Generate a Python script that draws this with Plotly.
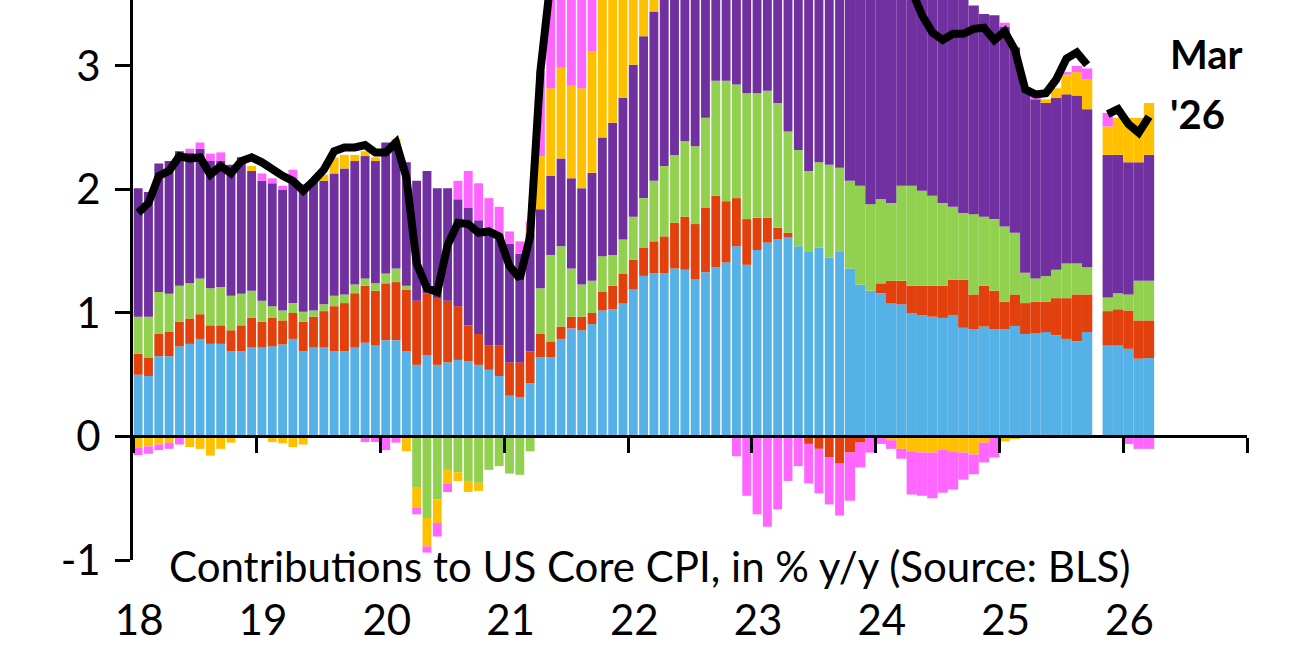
import plotly.graph_objects as go

# ---------------- data (monthly, Jan 2018 .. Mar 2026; Oct 2025 not published) ----------------
months = [f"{y}-{m:02d}" for y in range(2018, 2027) for m in range(1, 13)][:99]

shelter = [
    .50, .49, .65, .65, .73, .75, .79, .75, .75, .69, .69, .72,
    .72, .73, .745, .79, .69, .72, .72, .69, .69, .72, .76, .74,
    .78, .78, .69, .58, .66, .58, .60, .62, .61, .58, .54, .49,
    .33, .32, .43, .64, .64, .79, .875, .86, .91, 1.02, 1.03, 1.08,
    1.19, 1.30, 1.32, 1.32, 1.36, 1.35, 1.27, 1.33, 1.37, 1.41, 1.54, 1.39,
    1.51, 1.57, 1.595, 1.61, 1.54, 1.50, 1.53, 1.45, 1.50, 1.36, 1.23, 1.18,
    1.16, 1.08, 1.07, 1.00, .98, .97, .96, .98, .88, .87, .89, .87,
    .87, .895, .83, .835, .845, .82, .79, .77, .845, None, .74, .74,
    .71, .63, .635]

medical = [
    .17, .15, .18, .20, .20, .205, .20, .15, .15, .17, .21, .24,
    .21, .23, .195, .21, .24, .25, .295, .365, .39, .44, .46, .44,
    .46, .47, .50, .52, .50, .54, .50, .435, .29, .25, .20, .25,
    .27, .28, .26, .19, .13, .10, .095, .11, .09, .15, .19, .24,
    .24, .23, .26, .30, .37, .43, .45, .52, .58, .495, .39, .37,
    .26, .20, .095, .04, 0, -.06, -.10, -.17, -.22, -.13, -.05, 0,
    .08, .18, .19, .22, .24, .25, .26, .29, .39, .28, .33, .31,
    .22, .255, .25, .255, .245, .30, .33, .38, .305, None, .275, .29,
    .31, .31, .305]

transport = [
    .30, .33, .34, .305, .29, .285, .29, .30, .31, .28, .255, .22,
    .17, .095, .08, .08, .08, .05, .055, .085, .07, .07, .06, .06,
    .08, .11, .03, -.415, -.66, -.51, -.27, -.29, -.36, -.375, -.27, -.24,
    -.30, -.31, -.12, .37, .70, .65, .39, .26, .26, .29, .25, .275,
    .35, .40, .49, .57, .55, .61, .63, .73, .93, .975, .92, 1.02,
    1.01, 1.03, 1.01, .82, .78, .65, .69, .75, .675, .71, .80, .70,
    .68, .63, .77, .81, .77, .73, .67, .59, .54, .65, .56, .58,
    .61, .50, .245, .19, .21, .23, .28, .25, .22, None, .11, .13,
    .13, .32, .32]

other_services = [
    1.04, 1.01, 1.04, 1.075, 1.09, 1.06, 1.05, 1.03, 1.02, 1.06, 1.105, .97,
    .97, .995, .98, .99, 1.03, 1.05, 1.00, .99, 1.02, 1.00, .99, .99,
    1.06, .99, 1.00, .97, .99, .89, .91, .865, .95, .92, .89, .90,
    .96, .88, .95, .64, .64, .71, .73, .78, .875, .96, 1.07, 1.145,
    1.23, 1.31, 1.37, 1.5, 1.7, 1.9, 2.0, 2.2, 2.4, 2.5, 2.6, 2.7,
    3.45, 3.43, 3.49, 3.39, 3.22, 3.03, 2.94, 2.65, 2.57, 2.45, 2.22, 2.15,
    2.01, 1.97, 1.95, 2.05, 1.90, 1.82, 1.775, 1.83, 1.80, 1.69, 1.64, 1.65,
    1.62, 1.50, 1.505, 1.45, 1.40, 1.39, 1.37, 1.36, 1.28, None, 1.155, 1.12,
    1.07, .96, 1.02]

core_goods = [
    -.09, -.08, -.065, -.05, 0, -.085, -.10, -.155, -.10, -.05, 0, .04,
    0, -.045, -.055, -.085, -.065, 0, .05, .13, .11, .05, .04, .03,
    0, .06, -.12, -.16, -.23, -.19, -.11, -.07, -.09, -.065, 0, 0,
    0, 0, .05, .43, .71, .735, .75, .81, .985, 1.2, 1.3, 1.3,
    1.6, 1.6, 1.5, 1.3, 1.0, .8, .6, .4, .3, .2, .71, .70,
    0, 0, 0, 0, 0, 0, 0, 0, 0, 0, 0, 0,
    0, -.03, -.10, -.12, -.13, -.13, -.105, -.12, -.13, -.146, -.05, 0,
    -.04, -.02, 0, 0, .03, .08, .16, .19, .24, None, .23, .30,
    .36, .36, .42]

vehicles = [
    -.06, -.06, -.045, -.05, -.065, .03, .05, .06, .07, 0, 0, 0,
    .06, .04, .03, .09, 0, 0, 0, 0, 0, 0, -.045, -.045,
    -.11, -.05, 0, -.055, -.05, -.11, -.07, .15, .30, .30, .30, .22,
    .10, .10, .05, .69, .98, 1.47, 1.43, 1.18, .92, .96, 1.12, 1.44,
    1.39, 1.56, 1.56, 1.21, 1.02, .81, .95, 1.12, 1.02, .72, -.16, -.48,
    -.63, -.73, -.59, -.36, -.24, -.32, -.36, -.38, -.42, -.39, -.20, -.13,
    -.06, -.07, -.08, -.35, -.35, -.37, -.35, -.31, -.22, -.16, -.16, -.17,
    .03, 0, 0, .03, 0, 0, .02, .05, .09, None, .11, 0,
    -.06, -.10, -.10]

core_cpi = [
    1.81, 1.89, 2.11, 2.15, 2.27, 2.25, 2.26, 2.12, 2.19, 2.13, 2.23, 2.26,
    2.22, 2.16, 2.11, 2.07, 1.99, 2.07, 2.16, 2.31, 2.34, 2.34, 2.36, 2.30,
    2.30, 2.38, 2.10, 1.40, 1.20, 1.17, 1.55, 1.73, 1.72, 1.65, 1.66, 1.62,
    1.38, 1.28, 1.62, 2.96, 3.80, 4.45, 4.27, 4.00, 4.04, 4.58, 4.96, 5.48,
    6.0, 6.4, 6.5, 6.2, 6.0, 5.9, 5.9, 6.3, 6.6, 6.3, 6.0, 5.7,
    5.6, 5.5, 5.6, 5.5, 5.3, 4.8, 4.7, 4.3, 4.1, 4.0, 4.0, 3.9,
    3.87, 3.76, 3.80, 3.61, 3.41, 3.27, 3.21, 3.26, 3.26, 3.30, 3.31, 3.21,
    3.28, 3.13, 2.81, 2.77, 2.78, 2.89, 3.06, 3.11, 3.01, None, 2.61, 2.65,
    2.53, 2.46, 2.59]

year_labels = ["18", "19", "20", "21", "22", "23", "24", "25", "26"]
y_ticks = [-1, 0, 1, 2, 3]

# ---------------- styling ----------------
FONT = "Lato"
series = [
    ("Shelter", shelter, "#55B1E6"),
    ("Medical", medical, "#E2400C"),
    ("Transport", transport, "#92D050"),
    ("Other services", other_services, "#7030A0"),
    ("Core goods", core_goods, "#FFC000"),
    ("Vehicles", vehicles, "#FF66FF"),
]

x_pos = list(range(len(months)))
widths = [0.86 if i < 69 else 1.0 for i in x_pos]

YMIN, YMAX = -1, 3.534
XMIN, XMAX = -0.5, 12 * len(year_labels) - 0.5

fig = go.Figure()
for name, vals, color in series:
    fig.add_trace(go.Bar(x=x_pos, y=vals, width=widths, name=name,
                         marker=dict(color=color, line=dict(width=0))))
fig.add_trace(go.Scatter(x=x_pos, y=core_cpi, mode="lines", name="Core CPI",
                         line=dict(color="black", width=8), connectgaps=False))
# helper trace so the zero-line axis is drawn
fig.add_trace(go.Scatter(x=[0], y=[0], xaxis="x2", mode="markers",
                         marker=dict(opacity=0), hoverinfo="skip", showlegend=False))

fig.update_layout(
    width=1300, height=650,
    margin=dict(l=133, r=53, t=0, b=90),
    paper_bgcolor="white", plot_bgcolor="white",
    barmode="relative", showlegend=False,
    font=dict(family=FONT, color="black"),
    xaxis=dict(range=[XMIN, XMAX], tickmode="array",
               tickvals=[12 * k + 0.1 for k in range(len(year_labels))],
               ticktext=year_labels, ticks="", showline=False, showgrid=False,
               zeroline=False, tickfont=dict(size=42, family=FONT),
               ticklabelstandoff=32),
    xaxis2=dict(overlaying="x", anchor="free",
                position=(0 - YMIN) / (YMAX - YMIN),
                range=[XMIN, XMAX], tickmode="array",
                tickvals=[12 * k - 0.5 for k in range(len(year_labels) + 1)],
                ticks="outside", ticklen=15, tickwidth=3, tickcolor="black",
                showline=True, linecolor="black", linewidth=3,
                showticklabels=False, showgrid=False, zeroline=False,
                layer="above traces"),
    yaxis=dict(range=[YMIN, YMAX], tickmode="array", tickvals=y_ticks,
               ticktext=[str(v) for v in y_ticks],
               ticks="outside", ticklen=15, tickwidth=3, tickcolor="black",
               showline=True, linecolor="black", linewidth=3,
               showgrid=False, zeroline=False, layer="above traces",
               ticklabelstandoff=6,
               tickfont=dict(size=42, family=FONT)),
    annotations=[
        dict(text="Contributions to US Core CPI, in % y/y (Source: BLS)",
             xref="paper", yref="paper", x=0.464, y=-0.0107,
             xanchor="center", yanchor="middle", showarrow=False,
             font=dict(size=42, family=FONT)),
        dict(text="<b>Mar</b>", xref="paper", yref="paper", x=0.929, y=0.903,
             xanchor="left", yanchor="middle", showarrow=False,
             font=dict(size=40, family=FONT)),
        dict(text="<b>'26</b>", xref="paper", yref="paper", x=0.929, y=0.797,
             xanchor="left", yanchor="middle", showarrow=False,
             font=dict(size=40, family=FONT)),
    ],
)

fig.write_html("out.html")
